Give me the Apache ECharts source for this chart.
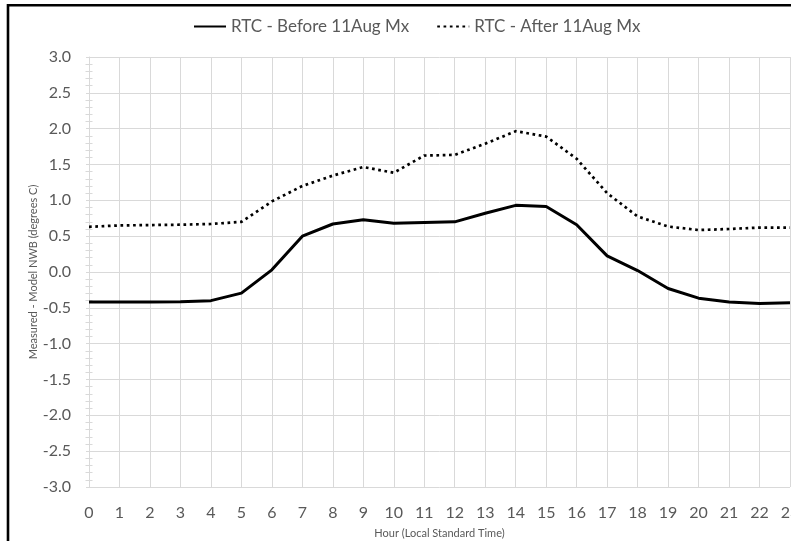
<!DOCTYPE html>
<html>
<head>
<meta charset="utf-8">
<script src="https://cdn.jsdelivr.net/npm/echarts@6/dist/echarts.min.js"></script>
<style>
html,body{margin:0;padding:0;background:#fff;}
#c{width:791px;height:541px;}
</style>
</head>
<body>
<div id="c"></div>
<script>
var hours = ['0','1','2','3','4','5','6','7','8','9','10','11','12','13','14','15','16','17','18','19','20','21','22','23'];
var beforeMx = [-0.42, -0.42, -0.42, -0.415, -0.40, -0.295, 0.03, 0.50, 0.67, 0.73, 0.68, 0.69, 0.70, 0.82, 0.93, 0.915, 0.66, 0.225, 0.02, -0.23, -0.365, -0.42, -0.44, -0.43];
var afterMx = [0.63, 0.65, 0.655, 0.66, 0.67, 0.70, 0.985, 1.20, 1.345, 1.465, 1.385, 1.625, 1.634, 1.79, 1.965, 1.89, 1.58, 1.10, 0.775, 0.635, 0.585, 0.60, 0.62, 0.62];
var seriesNames = ['RTC - Before 11Aug Mx', 'RTC - After 11Aug Mx'];
var yMin = -3, yMax = 3, yStep = 0.5;

var gridColor = '#d9d9d9';
var textColor = '#595959';
var font = 'Lato';
var chart = echarts.init(document.getElementById('c'), null, {renderer: 'canvas'});
var gridPos = {left: 89, right: 1, top: 57, bottom: 54, containLabel: false, outerBoundsMode: 'none'};
chart.setOption({
  animation: false,
  backgroundColor: '#fff',
  textStyle: {fontFamily: font},
  legend: {
    top: 13,
    left: 188,
    itemWidth: 32,
    itemHeight: 10,
    itemGap: 27,
    itemStyle: {opacity: 0},
    textStyle: {fontFamily: font, fontSize: 17, color: textColor},
    data: seriesNames
  },
  grid: [Object.assign({}, gridPos), Object.assign({}, gridPos)],
  xAxis: [{
    type: 'category',
    gridIndex: 0,
    data: hours,
    boundaryGap: false,
    name: 'Hour (Local Standard Time)',
    nameLocation: 'middle',
    nameGap: 41,
    nameMoveOverlap: false,
    nameTextStyle: {fontFamily: font, fontSize: 11, color: textColor},
    axisLine: {show: false},
    axisTick: {show: false},
    axisLabel: {interval: 0, margin: 18, fontFamily: font, fontSize: 16, color: textColor},
    splitLine: {show: true, interval: 0, lineStyle: {color: gridColor, width: 1}}
  }, {
    type: 'category',
    gridIndex: 1,
    data: hours,
    boundaryGap: false,
    show: false
  }],
  yAxis: [{
    type: 'value',
    gridIndex: 0,
    min: yMin, max: yMax, interval: yStep,
    name: 'Measured - Model NWB (degrees C)',
    nameLocation: 'middle',
    nameGap: 50,
    nameMoveOverlap: false,
    nameTextStyle: {fontFamily: font, fontSize: 11, color: textColor},
    axisLine: {show: true, lineStyle: {color: gridColor, width: 1}},
    axisTick: {show: true, length: 3, lineStyle: {color: gridColor}},
    minorTick: {show: true, splitNumber: 5, length: 3.5, lineStyle: {color: gridColor}},
    axisLabel: {margin: 18, padding: [7, 0, 0, 0], fontFamily: font, fontSize: 16, color: textColor,
      formatter: function (v) { return v.toFixed(1); }},
    splitLine: {show: true, lineStyle: {color: gridColor, width: 1}}
  }, {
    type: 'value',
    gridIndex: 1,
    min: yMin, max: yMax, interval: yStep,
    axisLine: {show: false},
    axisTick: {show: false, inside: true},
    minorTick: {show: true, splitNumber: 5, length: 3.5, lineStyle: {color: gridColor}},
    axisLabel: {show: false},
    splitLine: {show: false}
  }],
  graphic: [{
    type: 'rect',
    shape: {x: 8, y: 5.3, width: 1000, height: 1000},
    style: {fill: 'none', stroke: '#000', lineWidth: 2.6},
    silent: true,
    z: 100
  }],
  series: [{
    name: seriesNames[0],
    type: 'line',
    xAxisIndex: 0, yAxisIndex: 0,
    data: beforeMx,
    symbol: 'none',
    lineStyle: {color: '#000', width: 3, type: 'solid', join: 'round'},
    itemStyle: {color: '#000'}
  }, {
    name: seriesNames[1],
    type: 'line',
    xAxisIndex: 0, yAxisIndex: 0,
    data: afterMx,
    symbol: 'none',
    lineStyle: {color: '#000', width: 2.7, type: [2.7, 3.6], cap: 'butt'},
    itemStyle: {color: '#000'}
  }]
});
</script>
</body>
</html>
